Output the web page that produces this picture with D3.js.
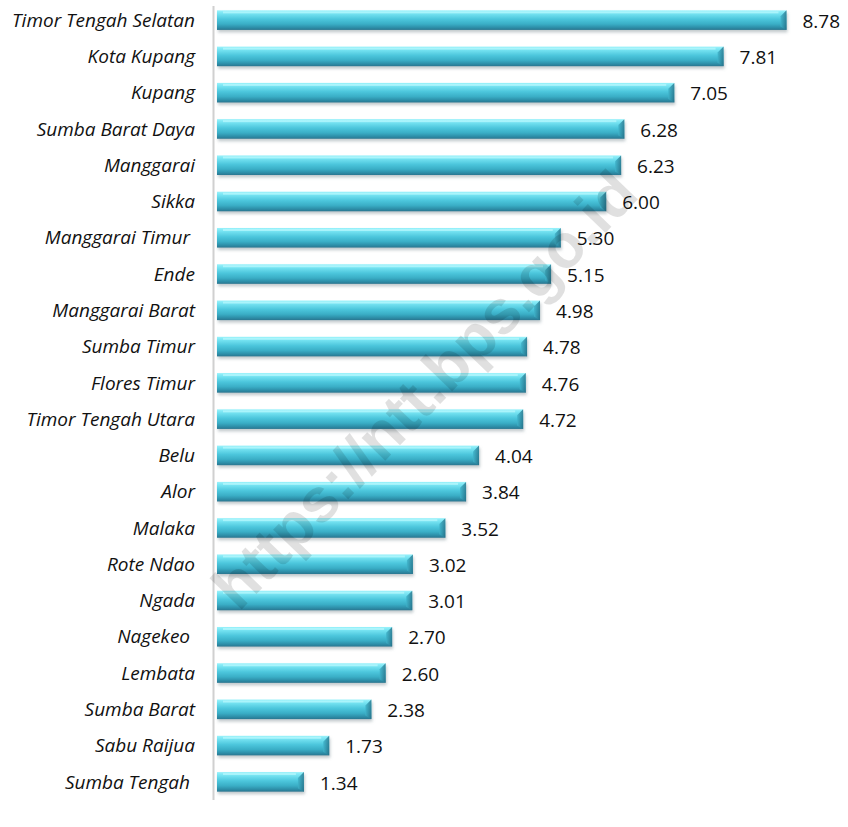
<!DOCTYPE html>
<html>
<head>
<meta charset="utf-8">
<script src="https://cdn.jsdelivr.net/npm/d3@7"></script>
<style>
  html, body { margin: 0; padding: 0; background: #fff; }
  svg text { white-space: pre; }
</style>
</head>
<body>
<svg id="chart" width="848" height="827"></svg>
<script>
// Regencies / cities of Nusa Tenggara Timur, sorted by value
const regions = [
  "Timor Tengah Selatan", "Kota Kupang", "Kupang", "Sumba Barat Daya", "Manggarai",
  "Sikka", "Manggarai Timur ", "Ende", "Manggarai Barat", "Sumba Timur",
  "Flores Timur", "Timor Tengah Utara", "Belu", "Alor", "Malaka",
  "Rote Ndao", "Ngada", "Nagekeo ", "Lembata", "Sumba Barat",
  "Sabu Raijua", "Sumba Tengah "
];
const values = [
  8.78, 7.81, 7.05, 6.28, 6.23,
  6.00, 5.30, 5.15, 4.98, 4.78,
  4.76, 4.72, 4.04, 3.84, 3.52,
  3.02, 3.01, 2.70, 2.60, 2.38,
  1.73, 1.34
];
const watermark = "https://ntt.bps.go.id";

const svg = d3.select("#chart");

const x = d3.scaleLinear().domain([0, 8.78]).range([217, 786.5]);
const y = d3.scaleBand().domain(regions).range([2, 800]).paddingInner(0.46).paddingOuter(0.23);

const defs = svg.append("defs");
const grad = defs.append("linearGradient").attr("id", "barGrad")
  .attr("x1", 0).attr("y1", 0).attr("x2", 0).attr("y2", 1);
[[0, "#9af2fb"], [0.18, "#74e2f1"], [0.45, "#4cc6dc"], [0.7, "#3aaec6"], [0.88, "#2d8ea8"], [1, "#2a7690"]]
  .forEach(([o, c]) => grad.append("stop").attr("offset", o).attr("stop-color", c));

const capGrad = defs.append("linearGradient").attr("id", "capGrad")
  .attr("x1", 0).attr("y1", 0).attr("x2", 1).attr("y2", 0);
[[0, "#3fb3ca"], [1, "#256f86"]]
  .forEach(([o, c]) => capGrad.append("stop").attr("offset", o).attr("stop-color", c));

const shadow = defs.append("filter").attr("id", "shadow")
  .attr("x", "-5%").attr("y", "-30%").attr("width", "110%").attr("height", "180%");
shadow.append("feGaussianBlur").attr("stdDeviation", 1.6);

// Vertical axis line
svg.append("line")
  .attr("x1", 213.5).attr("x2", 213.5)
  .attr("y1", 6).attr("y2", 800)
  .attr("stroke", "#d0d0d0").attr("stroke-width", 2);

const rows = svg.append("g").selectAll("g").data(regions).join("g")
  .attr("transform", d => `translate(0,${y(d)})`);

const bh = y.bandwidth();

// soft shadow under each bar
rows.append("rect")
  .attr("x", x(0) + 1)
  .attr("y", 2.5)
  .attr("width", (d, i) => x(values[i]) - x(0))
  .attr("height", bh)
  .attr("fill", "#7a8a90")
  .attr("fill-opacity", 0.45)
  .attr("filter", "url(#shadow)");

rows.append("rect")
  .attr("x", x(0))
  .attr("y", 0)
  .attr("width", (d, i) => x(values[i]) - x(0))
  .attr("height", bh)
  .attr("fill", "url(#barGrad)");

// bevelled right end
rows.append("path")
  .attr("d", (d, i) => {
    const xe = x(values[i]);
    return `M${xe - 6},${bh * 0.3} L${xe},${0} L${xe},${bh} L${xe - 6},${bh * 0.82} Z`;
  })
  .attr("fill", "url(#capGrad)")
  .attr("fill-opacity", 0.8);

// top highlight line
rows.append("rect")
  .attr("x", x(0) + 6)
  .attr("y", 1)
  .attr("width", (d, i) => Math.max(0, x(values[i]) - x(0) - 14))
  .attr("height", 2)
  .attr("fill", "#c4fbff")
  .attr("fill-opacity", 0.6);

// category labels
rows.append("text")
  .attr("x", 195)
  .attr("y", bh / 2)
  .attr("dy", "0.35em")
  .attr("text-anchor", "end")
  .attr("font-family", "'Open Sans', sans-serif")
  .attr("font-style", "italic")
  .attr("font-size", 19)
  .attr("fill", "#111")
  .text(d => d);

// value labels
rows.append("text")
  .attr("x", (d, i) => x(values[i]) + 16)
  .attr("y", bh / 2 + 1)
  .attr("dy", "0.35em")
  .attr("font-family", "'Open Sans', sans-serif")
  .attr("font-size", 19)
  .attr("fill", "#111")
  .text((d, i) => values[i].toFixed(2));

// Watermark across the plot
svg.append("text")
  .attr("transform", "translate(428,393) rotate(-46)")
  .attr("text-anchor", "middle")
  .attr("dominant-baseline", "middle")
  .attr("font-family", "Liberation Sans, Arial, sans-serif")
  .attr("font-weight", "bold")
  .attr("font-size", 62)
  .attr("fill", "#000")
  .attr("fill-opacity", 0.12)
  .text(watermark);
</script>
</body>
</html>
